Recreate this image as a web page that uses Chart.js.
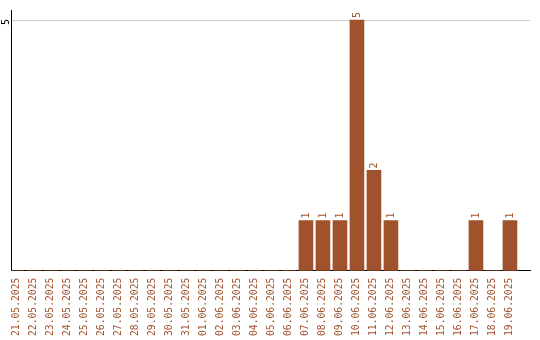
<!DOCTYPE html>
<html>
<head>
<meta charset="utf-8">
<script src="https://cdn.jsdelivr.net/npm/chart.js@4.4.0/dist/chart.umd.min.js"></script>
<style>
  html, body { margin: 0; padding: 0; background: #fff; }
  #wrap { width: 540px; height: 340px; }
</style>
</head>
<body>
<div id="wrap"><canvas id="chart" width="540" height="340"></canvas></div>
<script>
// daily counts, 21.05.2025 - 19.06.2025
const dates = [
  '21.05.2025', '22.05.2025', '23.05.2025', '24.05.2025', '25.05.2025',
  '26.05.2025', '27.05.2025', '28.05.2025', '29.05.2025', '30.05.2025',
  '31.05.2025', '01.06.2025', '02.06.2025', '03.06.2025', '04.06.2025',
  '05.06.2025', '06.06.2025', '07.06.2025', '08.06.2025', '09.06.2025',
  '10.06.2025', '11.06.2025', '12.06.2025', '13.06.2025', '14.06.2025',
  '15.06.2025', '16.06.2025', '17.06.2025', '18.06.2025', '19.06.2025'
];
const counts = [
  0, 0, 0, 0, 0,
  0, 0, 0, 0, 0,
  0, 0, 0, 0, 0,
  0, 0, 1, 1, 1,
  5, 2, 1, 0, 0,
  0, 0, 1, 0, 1
];
const yTicks = [5];

const barColor = '#a0522d';
const textColor = '#a0522d';
const smallFont = '10px "DejaVu Sans Mono", monospace';

// value labels above bars, turned 90 degrees
const valueLabels = {
  id: 'valueLabels',
  afterDatasetsDraw(chart) {
    const ctx = chart.ctx;
    const meta = chart.getDatasetMeta(0);
    ctx.save();
    ctx.font = smallFont;
    ctx.fillStyle = textColor;
    meta.data.forEach((bar, i) => {
      const v = counts[i];
      if (!v) return;
      ctx.save();
      ctx.translate(bar.x, bar.y - 2);
      ctx.rotate(-Math.PI / 2);
      ctx.textAlign = 'left';
      ctx.textBaseline = 'middle';
      ctx.fillText(String(v), 0, 0);
      ctx.restore();
    });
    ctx.restore();
  }
};

// y tick label, also turned
const yLabels = {
  id: 'yLabels',
  afterDraw(chart) {
    const ctx = chart.ctx;
    const y = chart.scales.y;
    ctx.save();
    ctx.font = smallFont;
    ctx.fillStyle = '#000';
    yTicks.forEach(t => {
      ctx.save();
      ctx.translate(y.left - 5, y.getPixelForValue(t) + 2);
      ctx.rotate(-Math.PI / 2);
      ctx.textAlign = 'center';
      ctx.textBaseline = 'middle';
      ctx.fillText(String(t), 0, 0);
      ctx.restore();
    });
    ctx.restore();
  }
};

new Chart(document.getElementById('chart'), {
  type: 'bar',
  data: {
    datasets: [{
      data: counts.map((v, i) => ({ x: i, y: v })),
      backgroundColor: barColor,
      borderWidth: 0,
      barThickness: 14
    }]
  },
  options: {
    responsive: false,
    animation: false,
    layout: { padding: { left: 11, top: 10, right: 10, bottom: -3 } },
    plugins: {
      legend: { display: false },
      tooltip: { enabled: false }
    },
    scales: {
      x: {
        type: 'linear',
        offset: false,
        min: -0.35,
        max: 30.18,
        afterBuildTicks: scale => { scale.ticks = dates.map((d, i) => ({ value: i })); },
        grid: { display: false, drawTicks: false, offset: false },
        border: { color: '#000', width: 1 },
        ticks: {
          autoSkip: false,
          minRotation: 90,
          maxRotation: 90,
          padding: 7,
          color: textColor,
          font: { family: '"DejaVu Sans Mono", monospace', size: 9.7 },
          callback: v => dates[v]
        }
      },
      y: {
        min: 0,
        max: 5.2,
        afterBuildTicks: scale => { scale.ticks = yTicks.map(v => ({ value: v })); },
        grid: { color: '#cccccc', drawTicks: false },
        border: { color: '#000', width: 1 },
        ticks: { display: false }
      }
    }
  },
  plugins: [valueLabels, yLabels]
});
</script>
</body>
</html>
